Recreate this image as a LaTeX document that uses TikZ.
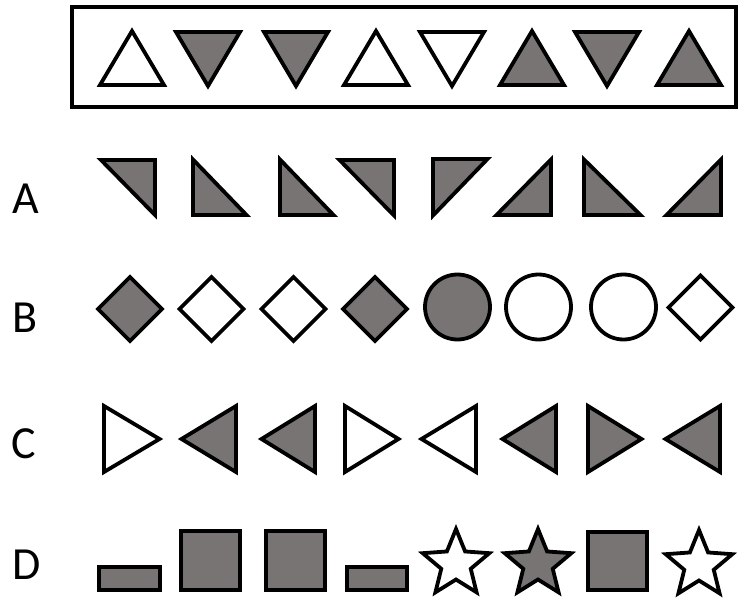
\documentclass[tikz,border=0pt]{standalone}
\usepackage{fontspec}
\setmainfont{Carlito}
\definecolor{shapegray}{RGB}{120,116,115}
\tikzset{
  wshape/.style={draw=black, line width=3.8pt, fill=white, line join=miter},
  gshape/.style={draw=black, line width=3.8pt, fill=shapegray, line join=miter},
  framebox/.style={draw=black, line width=3.5pt},
  rowlabel/.style={anchor=base west, inner sep=0pt, font=\fontsize{46}{50}\selectfont}
}
\begin{document}
\begin{tikzpicture}[x=1pt,y=-1pt]
\useasboundingbox (0,0) rectangle (741,599);
% top frame
\draw[framebox] (72,7) rectangle (736,107);
% top row triangles
\draw[wshape] (100,85) -- (164,85) -- (132,31) -- cycle;
\draw[gshape] (176,32) -- (240,32) -- (208,86) -- cycle;
\draw[gshape] (264,32) -- (328,32) -- (296,86) -- cycle;
\draw[wshape] (344,85) -- (408,85) -- (376,31) -- cycle;
\draw[wshape] (420,32) -- (484,32) -- (452,86) -- cycle;
\draw[gshape] (500,85) -- (564,85) -- (532,31) -- cycle;
\draw[gshape] (575,32) -- (639,32) -- (607,86) -- cycle;
\draw[gshape] (657,85) -- (721,85) -- (689,31) -- cycle;
% labels
\node[rowlabel] (la) at (12,213) {A};
\node[rowlabel] (lb) at (12,332) {B};
\node[rowlabel] (lc) at (11,458) {C};
\node[rowlabel] (ld) at (12,579) {D};
% row A
\draw[gshape] (101,160) -- (155,160) -- (155,215) -- cycle;
\draw[gshape] (193,159.5) -- (193,215) -- (246.5,215) -- cycle;
\draw[gshape] (280,159.5) -- (280,215) -- (333.5,215) -- cycle;
\draw[gshape] (339.5,160) -- (394,160) -- (394,215.5) -- cycle;
\draw[gshape] (433,159) -- (487.5,159) -- (433,215.5) -- cycle;
\draw[gshape] (496.5,215) -- (551,215) -- (551,159.5) -- cycle;
\draw[gshape] (584,159.5) -- (584,215) -- (640.5,215) -- cycle;
\draw[gshape] (666.5,215) -- (721,215) -- (721,159.5) -- cycle;
% row B
\draw[gshape] (130,277) -- (162,309) -- (130,341) -- (98,309) -- cycle;
\draw[wshape] (211.5,277) -- (243.5,309) -- (211.5,341) -- (179.5,309) -- cycle;
\draw[wshape] (293.5,277) -- (325.5,309) -- (293.5,341) -- (261.5,309) -- cycle;
\draw[gshape] (375,277) -- (407,309) -- (375,341) -- (343,309) -- cycle;
\draw[gshape] (457.5,307) circle[radius=32.5];
\draw[wshape] (538.5,307) circle[radius=32.5];
\draw[wshape] (623.5,307) circle[radius=32.5];
\draw[wshape] (700.5,275.5) -- (732.5,307.5) -- (700.5,339.5) -- (668.5,307.5) -- cycle;
% row C
\draw[wshape] (104,406) -- (159.5,439) -- (104,472) -- cycle;
\draw[gshape] (236,406) -- (181.5,439) -- (236,472) -- cycle;
\draw[gshape] (315,406) -- (261.5,439) -- (315,472) -- cycle;
\draw[wshape] (345,406) -- (398.5,439) -- (345,472) -- cycle;
\draw[wshape] (476,406) -- (421.5,439) -- (476,472) -- cycle;
\draw[gshape] (556,406) -- (502.5,439) -- (556,472) -- cycle;
\draw[gshape] (588,406) -- (641.5,439) -- (588,472) -- cycle;
\draw[gshape] (720,406) -- (665.5,439) -- (720,472) -- cycle;
% row D
\draw[gshape] (99,567) rectangle (160,590);
\draw[gshape] (181,531) rectangle (240,590);
\draw[gshape] (266,531) rectangle (325,590);
\draw[gshape] (347,567) rectangle (407,590);
\draw[wshape, shift={(456,564)}] (270:35) -- (306:15.5) -- (342:35) -- (18:15.5) -- (54:35) -- (90:15.5) -- (126:35) -- (162:15.5) -- (198:35) -- (234:15.5) -- cycle;
\draw[gshape, shift={(538,564)}] (270:35) -- (306:15.5) -- (342:35) -- (18:15.5) -- (54:35) -- (90:15.5) -- (126:35) -- (162:15.5) -- (198:35) -- (234:15.5) -- cycle;
\draw[gshape] (588,532) rectangle (647,590);
\draw[wshape, shift={(699,565)}] (270:35) -- (306:15.5) -- (342:35) -- (18:15.5) -- (54:35) -- (90:15.5) -- (126:35) -- (162:15.5) -- (198:35) -- (234:15.5) -- cycle;
\end{tikzpicture}
\end{document}
